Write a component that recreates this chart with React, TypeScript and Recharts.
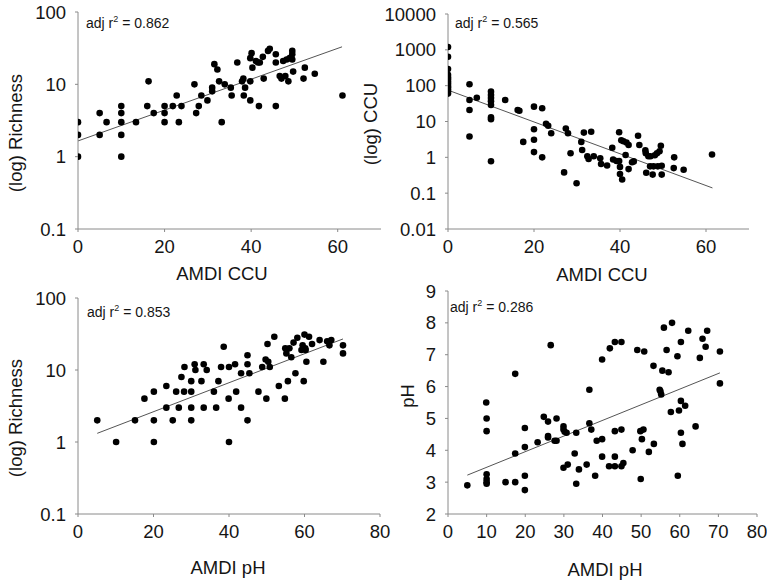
import React from "react";
import { ScatterChart, Scatter, XAxis, YAxis, ReferenceLine, Label } from "recharts";

// ---------- data ----------
const ccuRichness: number[][] = [
  [0, 3], [0, 2], [0, 1], [5, 4], [5, 2], [6.6, 3], [10, 5], [10, 4], [10, 3], [10, 2], [10, 1],
  [13.4, 3], [16, 5], [16.3, 11], [17.5, 4], [20, 5], [20, 4], [20, 3], [21.9, 5], [22.8, 7],
  [23.3, 3], [23.9, 5], [26.9, 10], [27.3, 4], [27.9, 5], [28.5, 7], [29.9, 6], [31, 9], [31, 8],
  [31.5, 19], [32.2, 16], [32.6, 11], [33.2, 3], [33.9, 10], [35.3, 9], [35.5, 7], [36.8, 20],
  [37.9, 11], [38.2, 12], [38.3, 7], [38.6, 9], [39.8, 6], [39.8, 11], [39.8, 23], [40.1, 27],
  [40.3, 17], [41.1, 21], [41.6, 20], [41.8, 5], [42, 20], [42.7, 24], [42.9, 12], [43.9, 29],
  [44.3, 31], [45.7, 20], [45.7, 26], [45.7, 5], [46.6, 13], [47, 12], [47.4, 21], [47.9, 13],
  [48.6, 11], [48.2, 22], [48.9, 23], [49.5, 29], [49.5, 26], [49.5, 22], [49.7, 15], [52.4, 17],
  [52.1, 12], [54.7, 14], [61.1, 7],
];
const ccuRichnessTrend: number[][] = [[0, 1.65], [61, 33]];

const ccuCcu: number[][] = [
  [0, 1200], [0, 640], [0, 290], [0, 200], [0, 170], [0, 150], [0, 130], [0, 115], [0, 100],
  [0, 90], [0, 80], [0, 70], [0, 60],
  [5, 110], [5, 40], [5, 21], [5, 3.8], [6.7, 46],
  [10, 68], [10, 55], [10, 45], [10, 37], [10, 29], [10, 13], [10, 11.5], [10, 0.78],
  [13.3, 40], [16.2, 21], [16.6, 20], [17.5, 2.7], [20, 26], [20, 6.1], [20, 3.1], [20, 1.4],
  [21.9, 23.5], [21.9, 1.0], [22.8, 8.6], [23.3, 7.6], [24, 4.7], [27, 0.38], [27.4, 6.4],
  [27.9, 4.7], [28.5, 1.3], [29.9, 0.19], [31, 2.7], [31.2, 1.6], [31.6, 4.9], [32.4, 1.07],
  [32.7, 0.9], [33.3, 5.2], [33.9, 1.07], [35.4, 0.94], [35.6, 0.65], [37, 0.59], [38.2, 1.85],
  [38.4, 0.87], [39.2, 0.79], [39.8, 0.79], [39.8, 5.0], [40, 0.54], [40, 0.34], [40.3, 3.0],
  [40.5, 0.24], [40.8, 2.8], [41.3, 1.16], [41.5, 2.6], [42, 2.2], [42, 0.47], [42.8, 0.73],
  [43.2, 0.77], [44.2, 4.0], [44.5, 2.2], [45.9, 1.56], [46, 1.3], [46.1, 0.37], [46.6, 1.07],
  [47, 0.56], [47.1, 1.07], [47.6, 0.33], [47.8, 0.56], [48.1, 1.14], [48.6, 1.3], [48.8, 0.56],
  [49.2, 1.47], [49.5, 2.1], [49.7, 0.58], [49.7, 0.33], [52.6, 1.0], [52.5, 0.5], [54.8, 0.45],
  [61.4, 1.2],
];
const ccuCcuTrend: number[][] = [[0, 75], [61.5, 0.14]];

const phRichness: number[][] = [
  [5.1, 2], [10.1, 1], [15.1, 2], [17.6, 4], [20.1, 5], [20.1, 2], [20.1, 1], [23.4, 6], [23.4, 3],
  [25.1, 2], [26, 5], [26.7, 3], [27.4, 8], [28.2, 11], [28.1, 5], [30, 5], [30, 7], [30, 3], [30, 2],
  [30.9, 12], [31.1, 10], [32.7, 7], [33.3, 12], [33.3, 3], [34.1, 10], [36, 5], [36.6, 3], [37.2, 7],
  [37.9, 11], [38.6, 21], [39.9, 4], [40, 11], [40, 1], [41.6, 12], [41.9, 5], [43.2, 9], [43.2, 3],
  [44.9, 16], [44.9, 12], [44.9, 2], [45.4, 9], [47.8, 5], [48.8, 11], [49.7, 14], [49.9, 4],
  [50.2, 23], [50.4, 13], [50.8, 11], [52, 29], [53.2, 6], [54.8, 4], [54.9, 20], [55.2, 17],
  [55.6, 7], [56, 20], [56.5, 15], [57.1, 24], [57.6, 9], [58.1, 28], [59.2, 19], [59.5, 22],
  [59.8, 7], [60.2, 20], [60, 31], [60.3, 19], [60.5, 13], [61.2, 29], [62, 23], [64, 26], [65, 13],
  [66, 25], [66.6, 22], [67.1, 26], [70.2, 22], [70.2, 17],
];
const phRichnessTrend: number[][] = [[5.1, 1.32], [70.2, 27]];

const phPh: number[][] = [
  [5, 2.9], [9.9, 5.5], [10, 5.0], [10, 4.6], [10, 3.25], [10, 3.1], [10, 3.0], [10, 2.95],
  [14.9, 3.0], [17.4, 6.4], [17.4, 3.9], [17.4, 3.0], [19.9, 4.7], [19.9, 4.1], [19.9, 3.2],
  [19.9, 2.75], [23.2, 4.25], [24.8, 5.05], [25.9, 4.9], [25.9, 4.45], [25.9, 4.4], [26.6, 7.3],
  [27.6, 4.3], [28.1, 4.3], [28.1, 5.0], [29.9, 4.75], [29.9, 4.65], [29.9, 3.45], [30.2, 4.58],
  [30.7, 4.55], [31, 3.55], [33.2, 4.55], [32.8, 3.9], [33.2, 2.95], [33.9, 3.4], [35.9, 3.55],
  [36.6, 5.9], [36.6, 4.85], [37.1, 4.65], [38.1, 3.2], [38.5, 4.3], [39.9, 4.35], [39.9, 6.85],
  [39.9, 3.8], [41.7, 3.5], [41.9, 7.2], [43.2, 4.6], [43.2, 3.8], [43.2, 3.5], [43.2, 7.4],
  [44.9, 7.4], [44.9, 4.65], [44.9, 3.5], [45.4, 3.6], [47.8, 4.0], [49, 7.15], [49.8, 4.6],
  [49.9, 3.1], [50.2, 4.35], [50.6, 4.65], [50.8, 7.1], [52, 3.95], [53.2, 6.65], [53.3, 4.2],
  [54.8, 5.9], [55, 5.85], [55.2, 5.75], [55.5, 6.5], [55.9, 7.85], [56.6, 7.15], [57.1, 6.45],
  [57.7, 5.2], [58, 8.0], [59.4, 6.95], [59.5, 3.2], [59.8, 5.25], [60.3, 7.4], [60.3, 5.55],
  [60.3, 4.55], [60.7, 4.2], [61.4, 5.4], [62.2, 7.75], [64.1, 4.75], [65.2, 6.9], [65.9, 7.5],
  [66.7, 7.25], [67.1, 7.75], [70.4, 7.1], [70.4, 6.1],
];
const phPhTrend: number[][] = [[5, 3.22], [70.4, 6.43]];

const ccuTicks = [0, 20, 40, 60];
const phTicks = [0, 20, 40, 60, 80];
const phTicks10 = [0, 10, 20, 30, 40, 50, 60, 70, 80];
const richTicks = [0.1, 1, 10, 100];
const ccuLogTicks = [0.01, 0.1, 1, 10, 100, 1000, 10000];
const pHTicksY = [2, 3, 4, 5, 6, 7, 8, 9];

// ---------- styles ----------
const W = 767;
const H = 581;
const FONT = "'Liberation Sans', Arial, sans-serif";
const AXIS = "#8a8a8a";
const TXT = "#151515";
const YW = 60;
const XH = 40;
const TICK_FS = 18.5;
const TITLE_FS = 18.5;

type PanelProps = {
  data: number[][];
  trend: number[][];
  xDomain: number[];
  xTicks: number[];
  yDomain: number[];
  yTicks: number[];
  yLog: boolean;
  plot: { l: number; r: number; t: number; b: number };
  xTitle: string;
  xTitlePos: number[];
  yTitle: string;
  yTitlePos: number[];
  r2: string;
  r2Pos: number[];
};

const Dot = (p: any) => <circle cx={p.cx} cy={p.cy} r={3.3} fill="#000" />;

function Panel(props: PanelProps) {
  const { plot } = props;
  const pts = props.data.map(([x, y]) => ({ x, y }));
  const margin = {
    left: plot.l - YW,
    top: plot.t,
    right: W - plot.r,
    bottom: H - plot.b - XH,
  };
  const tickStyle = { fontSize: TICK_FS, fill: TXT, fontFamily: FONT };
  return (
    <div style={{ position: "absolute", left: 0, top: 0, width: W, height: H }}>
      <ScatterChart width={W} height={H} margin={margin} style={{ overflow: "visible" }}>
        <XAxis
          type="number"
          dataKey="x"
          domain={props.xDomain}
          ticks={props.xTicks}
          interval={0}
          allowDataOverflow
          height={XH}
          stroke={AXIS}
          tickSize={3}
          tickMargin={8}
          tick={tickStyle}
          tickLine={{ stroke: AXIS }}
        >
          <Label
            content={() => (
              <g>
                <text
                  x={props.xTitlePos[0]}
                  y={props.xTitlePos[1]}
                  textAnchor="middle"
                  dominantBaseline="central"
                  fontSize={TITLE_FS}
                  fontFamily={FONT}
                  fill={TXT}
                >
                  {props.xTitle}
                </text>
                <text
                  x={props.r2Pos[0]}
                  y={props.r2Pos[1]}
                  fontSize={14}
                  fontFamily={FONT}
                  fill={TXT}
                >
                  adj r
                  <tspan dy={-6} fontSize={9}>2</tspan>
                  <tspan dy={6}>{" = " + props.r2}</tspan>
                </text>
              </g>
            )}
          />
        </XAxis>
        <YAxis
          type="number"
          dataKey="y"
          scale={props.yLog ? "log" : "linear"}
          domain={props.yDomain}
          ticks={props.yTicks}
          interval={0}
          allowDataOverflow
          width={YW}
          stroke={AXIS}
          tickSize={3}
          tickMargin={9}
          tick={tickStyle}
          tickLine={{ stroke: AXIS }}
        >
          <Label
            content={() => (
              <text
                x={props.yTitlePos[0]}
                y={props.yTitlePos[1]}
                transform={`rotate(-90 ${props.yTitlePos[0]} ${props.yTitlePos[1]})`}
                textAnchor="middle"
                dominantBaseline="central"
                fontSize={TITLE_FS}
                fontFamily={FONT}
                fill={TXT}
              >
                {props.yTitle}
              </text>
            )}
          />
        </YAxis>
        <ReferenceLine
          segment={[
            { x: props.trend[0][0], y: props.trend[0][1] },
            { x: props.trend[1][0], y: props.trend[1][1] },
          ]}
          stroke="#555"
          strokeWidth={1}
        />
        <Scatter data={pts} isAnimationActive={false} shape={Dot} />
      </ScatterChart>
    </div>
  );
}

export default function App() {
  return (
    <div style={{ position: "absolute", left: 0, top: 0, width: W, height: H, background: "#fff" }}>
      <Panel
        data={ccuRichness}
        trend={ccuRichnessTrend}
        xDomain={[0, 70]}
        xTicks={ccuTicks}
        yDomain={[0.1, 100]}
        yTicks={richTicks}
        yLog
        plot={{ l: 78, r: 381, t: 12, b: 229 }}
        xTitle="AMDI CCU"
        xTitlePos={[222, 273]}
        yTitle="(log) Richness"
        yTitlePos={[15, 133]}
        r2="0.862"
        r2Pos={[86, 28]}
      />
      <Panel
        data={ccuCcu}
        trend={ccuCcuTrend}
        xDomain={[0, 70]}
        xTicks={ccuTicks}
        yDomain={[0.01, 10000]}
        yTicks={ccuLogTicks}
        yLog
        plot={{ l: 448, r: 749, t: 14, b: 229 }}
        xTitle="AMDI CCU"
        xTitlePos={[602, 274]}
        yTitle="(log) CCU"
        yTitlePos={[370, 124]}
        r2="0.565"
        r2Pos={[455, 28]}
      />
      <Panel
        data={phRichness}
        trend={phRichnessTrend}
        xDomain={[0, 80]}
        xTicks={phTicks}
        yDomain={[0.1, 100]}
        yTicks={richTicks}
        yLog
        plot={{ l: 78, r: 380, t: 298, b: 514 }}
        xTitle="AMDI pH"
        xTitlePos={[228, 567]}
        yTitle="(log) Richness"
        yTitlePos={[15, 418]}
        r2="0.853"
        r2Pos={[87, 317]}
      />
      <Panel
        data={phPh}
        trend={phPhTrend}
        xDomain={[0, 80]}
        xTicks={phTicks10}
        yDomain={[2, 9]}
        yTicks={pHTicksY}
        yLog={false}
        plot={{ l: 448, r: 757, t: 291, b: 514 }}
        xTitle="AMDI pH"
        xTitlePos={[605, 569]}
        yTitle="pH"
        yTitlePos={[407, 396]}
        r2="0.286"
        r2Pos={[450, 312]}
      />
    </div>
  );
}
